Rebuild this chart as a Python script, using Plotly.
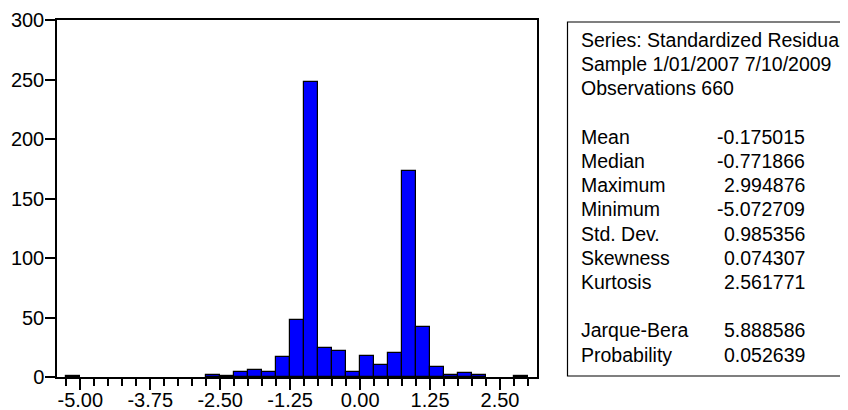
import plotly.graph_objects as go

# ---- data ----
bin_centers = [-5.125, -4.875, -4.625, -4.375, -4.125, -3.875, -3.625, -3.375,
               -3.125, -2.875, -2.625, -2.375, -2.125, -1.875, -1.625, -1.375,
               -1.125, -0.875, -0.625, -0.375, -0.125, 0.125, 0.375, 0.625,
               0.875, 1.125, 1.375, 1.625, 1.875, 2.125, 2.375, 2.625, 2.875]
counts = [1, 0, 0, 0, 0, 0, 0, 0,
          0, 0, 2, 1, 4, 6, 4, 17,
          48, 248, 24, 22, 4, 18, 10, 20,
          173, 42, 8, 2, 3, 2, 0, 0, 1]
bin_width = 0.25

header_lines = ["Series: Standardized Residuals",
                "Sample 1/01/2007 7/10/2009",
                "Observations 660"]
stat_names = ["Mean", "Median", "Maximum", "Minimum", "Std. Dev.", "Skewness", "Kurtosis"]
stat_values = ["-0.175015", "-0.771866", "2.994876", "-5.072709", "0.985356", "0.074307", "2.561771"]
test_names = ["Jarque-Bera", "Probability"]
test_values = ["5.888586", "0.052639"]

x_tickvals = [-5.00, -3.75, -2.50, -1.25, 0.00, 1.25, 2.50]
x_ticktext = ["-5.00", "-3.75", "-2.50", "-1.25", "0.00", "1.25", "2.50"]
y_tickvals = [0, 50, 100, 150, 200, 250, 300]

# ---- layout geometry (screen pixels; page body has an 8px margin) ----
OFF = 8
W, H = 848 - OFF, 410 - OFF
L, R, T, B = 57 - OFF, 537 - OFF, 20 - OFF, 377 - OFF
FONT = "Liberation Sans, Arial, sans-serif"
FS = 20
FS_BOX = 19.5

def px(xs):
    return (xs - OFF - L) / (R - L)

def py(ys):
    return (B - (ys - OFF)) / (B - T)

# empty bins are not drawn (no outline on the axis)
bar_y = [c if c > 0 else None for c in counts]

fig = go.Figure()
fig.add_trace(go.Bar(
    x=bin_centers, y=bar_y, width=bin_width,
    marker=dict(color="#0000FF", line=dict(color="black", width=1.2)),
    showlegend=False, hoverinfo="x+y",
))

fig.update_layout(
    width=W, height=H,
    margin=dict(l=L, r=W - R, t=T, b=H - B, pad=0, autoexpand=False),
    paper_bgcolor="white", plot_bgcolor="white",
    font=dict(family=FONT, size=FS, color="black"),
    bargap=0,
)
fig.update_xaxes(
    range=[-5.416, 3.161], tickvals=x_tickvals, ticktext=x_ticktext,
    ticks="outside", ticklen=11, tickwidth=1.5, tickcolor="black",
    minor=dict(tick0=-5, dtick=0.25, ticks="outside", ticklen=7,
               tickwidth=1.5, tickcolor="black", showgrid=False),
    showline=True, linewidth=1.5, linecolor="black", mirror=True,
    showgrid=False, zeroline=False, ticklabelstandoff=-7, automargin=False,
)
fig.update_yaxes(
    range=[0, 300], tickvals=y_tickvals,
    ticks="outside", ticklen=10, tickwidth=1.5, tickcolor="black",
    showline=True, linewidth=1.5, linecolor="black", mirror=True,
    showgrid=False, zeroline=False, ticklabelstandoff=-3, automargin=False,
)

# stats box
fig.add_shape(type="rect", xref="paper", yref="paper",
              x0=px(567.5), x1=px(880), y0=py(376), y1=py(22),
              line=dict(color="black", width=1.2), fillcolor="white", layer="above")

line_h = 24.2
y0 = 40
lab_x = 579
val_x = 807

def add_text(text, xs, ys, anchor):
    fig.add_annotation(text=text, xref="paper", yref="paper",
                       x=px(xs), y=py(ys), xanchor=anchor, yanchor="middle",
                       showarrow=False, font=dict(family=FONT, size=FS_BOX, color="black"))

for i, t in enumerate(header_lines):
    add_text(t, lab_x, y0 + i * line_h, "left")
for i, (n, v) in enumerate(zip(stat_names, stat_values)):
    yy = y0 + (4 + i) * line_h
    add_text(n, lab_x, yy, "left")
    add_text(v, val_x, yy, "right")
for i, (n, v) in enumerate(zip(test_names, test_values)):
    yy = y0 + (12 + i) * line_h
    add_text(n, lab_x, yy, "left")
    add_text(v, val_x, yy, "right")

fig.write_html("out.html")
